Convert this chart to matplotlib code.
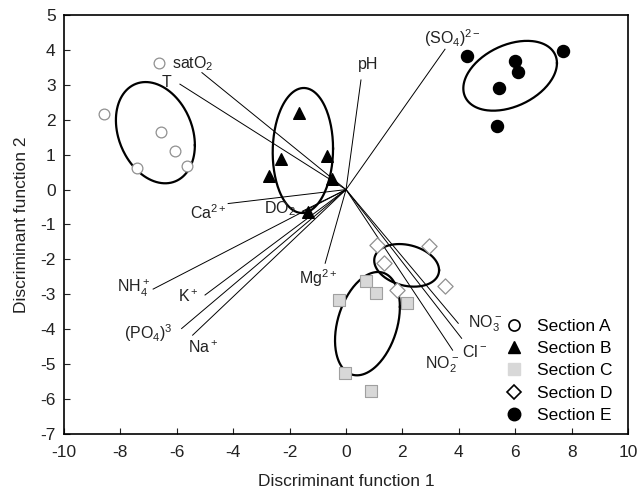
import numpy as np
import matplotlib
matplotlib.use('Agg')
import matplotlib.pyplot as plt
from matplotlib.lines import Line2D

plt.rcParams['font.family'] = ['Liberation Sans', 'DejaVu Sans']
plt.rcParams['mathtext.fontset'] = 'custom'
plt.rcParams['mathtext.rm'] = 'Liberation Sans'
plt.rcParams['mathtext.it'] = 'Liberation Sans:italic'
plt.rcParams['mathtext.default'] = 'regular'
plt.rcParams['axes.unicode_minus'] = False

# group scores (discriminant function 1, 2)
a_x = [-6.63, -8.57, -6.56, -6.05, -7.42, -5.65]
a_y = [3.63, 2.16, 1.66, 1.10, 0.61, 0.68]
b_x = [-1.67, -2.32, -2.73, -0.66, -0.51, -1.34]
b_y = [2.20, 0.87, 0.39, 0.96, 0.29, -0.64]
c_x = [0.72, 1.06, -0.26, 2.15, -0.04, 0.89]
c_y = [-2.61, -2.97, -3.17, -3.26, -5.25, -5.76]
d_x = [1.11, 1.36, 2.94, 3.52, 1.81]
d_y = [-1.59, -2.10, -1.62, -2.75, -2.88]
e_x = [4.28, 5.99, 6.11, 7.68, 5.41, 5.35]
e_y = [3.83, 3.69, 3.36, 3.97, 2.90, 1.83]

# confidence ellipses: centre x, centre y, half width, half height, tilt
ell_a = [-6.76, 1.63, 1.40, 1.45, -0.25]
ell_b = [-1.53, 1.12, 1.07, 1.79, 0.03]
ell_c = [0.76, -3.84, 1.15, 1.48, 0.33]
ell_d = [2.15, -2.17, 1.15, 0.61, -0.23]
ell_e = [5.82, 3.26, 1.66, 1.00, 0.37]

# variable vectors and their labels
var_names = ['satO$_2$', 'T', 'pH', '(SO$_4$)$^{2-}$', 'Ca$^{2+}$', 'DO$_2$',
             'NH$_4^+$', 'K$^+$', '(PO$_4$)$^3$', 'Na$^+$', 'Mg$^{2+}$',
             'NO$_3^-$', 'Cl$^-$', 'NO$_2^-$']
var_x = [-5.11, -5.89, 0.53, 3.51, -4.18, -1.55, -6.84, -5.00, -5.83, -5.44, -0.74, 3.98, 4.10, 3.78]
var_y = [3.35, 3.02, 3.14, 4.02, -0.40, -0.62, -2.85, -3.02, -3.98, -4.17, -2.11, -3.83, -4.26, -4.60]
lab_x = [-5.45, -6.35, 0.78, 3.76, -4.89, -2.34, -7.55, -5.60, -7.00, -5.07, -0.99, 4.93, 4.57, 3.39]
lab_y = [3.62, 3.07, 3.57, 4.34, -0.67, -0.56, -2.82, -3.08, -4.11, -4.54, -2.54, -3.85, -4.65, -5.03]

fig = plt.figure(figsize=(6.39, 4.94), dpi=100)
ax = fig.add_axes([0.1002, 0.1215, 0.8826, 0.8481])

for vx, vy in zip(var_x, var_y):
    ax.plot([0, vx], [0, vy], color='black', lw=0.7, zorder=1)
for name, lx, ly in zip(var_names, lab_x, lab_y):
    ax.text(lx, ly, name, ha='center', va='center', fontsize=11.5, color='#222222')

t = np.linspace(0, 2 * np.pi, 200)
for cx, cy, rx, ry, phi in [ell_a, ell_b, ell_c, ell_d, ell_e]:
    ax.plot(cx + rx * np.cos(t), cy + ry * np.sin(t + phi), color='black', lw=1.6, zorder=2)

ax.scatter(a_x, a_y, s=60, facecolors='white', edgecolors='#909090', linewidths=0.9, zorder=3)
ax.scatter(b_x, b_y, s=70, marker='^', color='black', zorder=3)
ax.scatter(c_x, c_y, s=80, marker='s', facecolors='#d8d8d8', edgecolors='#a0a0a0', linewidths=0.8, zorder=3)
ax.scatter(d_x, d_y, s=60, marker='D', facecolors='white', edgecolors='#909090', linewidths=0.9, zorder=3)
ax.scatter(e_x, e_y, s=75, marker='o', color='black', zorder=3)

handles = [
    Line2D([], [], ls='none', marker='o', ms=8, mfc='white', mec='black', mew=1.2),
    Line2D([], [], ls='none', marker='^', ms=9, color='black'),
    Line2D([], [], ls='none', marker='s', ms=9, mfc='#d8d8d8', mec='#d8d8d8'),
    Line2D([], [], ls='none', marker='D', ms=7, mfc='white', mec='black', mew=1.2),
    Line2D([], [], ls='none', marker='o', ms=9, color='black'),
]
labels = ['Section A', 'Section B', 'Section C', 'Section D', 'Section E']
ax.legend(handles, labels, loc='lower right', bbox_to_anchor=(1.0, -0.012), frameon=False,
          fontsize=12.5, handletextpad=0.8, labelspacing=0.42, handlelength=1.0)

ax.set_xlim(-10, 10)
ax.set_ylim(-7, 5)
ax.set_xticks(np.arange(-10, 11, 2))
ax.set_yticks(np.arange(-7, 6, 1))
ax.tick_params(direction='in', length=4, labelsize=12.5, colors='#222222')
ax.tick_params(axis='x', pad=8)
ax.tick_params(axis='y', pad=6)
for sp in ax.spines.values():
    sp.set_linewidth(1.2)
ax.set_xlabel('Discriminant function 1', fontsize=12.5, color='#222222', labelpad=10)
ax.set_ylabel('Discriminant function 2', fontsize=12.5, color='#222222', labelpad=8)

fig.savefig('out.png', dpi=100)
